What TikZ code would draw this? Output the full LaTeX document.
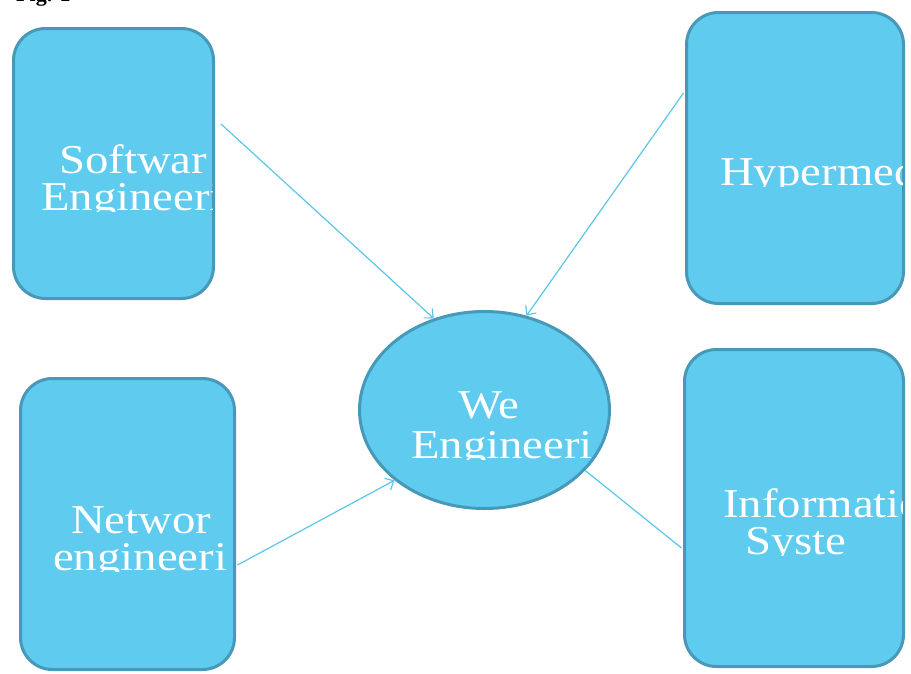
\documentclass[tikz,border=0pt]{standalone}
\usepackage{fontspec}
\usetikzlibrary{arrows.meta,shapes.geometric,calc}
\newfontfamily\lblfont[FakeStretch=1.14]{Liberation Serif}
\newfontfamily\capfont{Liberation Serif}
\definecolor{boxfill}{HTML}{5ECBEF}
\definecolor{boxline}{HTML}{4898B8}
\definecolor{linkline}{HTML}{5AC6EA}
\tikzset{
  topic/.style={draw=boxline, fill=boxfill, line width=3pt, rounded corners=32pt,
    rectangle, inner sep=0pt},
  hub/.style={draw=boxline, fill=boxfill, line width=3pt, ellipse, inner sep=0pt},
  lbl/.style={text=white, inner sep=0pt, anchor=base west,
    font=\lblfont\fontsize{41}{41}\selectfont},
  link/.style={draw=linkline, line width=1.2pt},
  linkarrow/.style={link, -{Straight Barb[length=7pt,width=13pt,line width=1.2pt]}}
}
% one line of label text, cut at its baseline and at the box edge
\newcommand{\lblline}[5]{%
  \begin{scope}
    \clip (#2-6,#3-48) rectangle (#5,#3+1.5);
    \node[lbl] (#1) at (#2,#3) {#4};
  \end{scope}}
\begin{document}
\begin{tikzpicture}[x=1pt,y=-1pt]
\useasboundingbox (0,0) rectangle (911,673);

% caption, mostly above the top edge
\begin{scope}
  \clip (0,0) rectangle (911,673);
  \node[anchor=base west, inner sep=0pt, font=\capfont\bfseries\fontsize{22}{22}\selectfont]
    (cap) at (16,1.5) {Fig. 1};
\end{scope}

% boxes and hub
\node[topic, minimum width=200pt, minimum height=270pt] (sw)  at (113.5,163.5) {};
\node[topic, minimum width=217pt, minimum height=291pt] (hy)  at (795,158) {};
\node[topic, minimum width=214pt, minimum height=291pt] (nw)  at (127.5,524) {};
\node[topic, minimum width=219pt, minimum height=317pt] (inf) at (794,508) {};
\node[hub, minimum width=250pt, minimum height=197pt] (web) at (484.5,410) {};

% labels
\lblline{swA}{59}{173}{Softwar}{212}
\lblline{swB}{41}{210}{Engineeri}{212}
\lblline{hyA}{720}{185}{Hypermed}{902}
\lblline{webA}{458}{418}{We}{611}
\lblline{webB}{411}{458}{Engineeri}{611}
\lblline{nwA}{71}{533}{Networ}{233}
\lblline{nwB}{53}{570}{engineeri}{233}
\lblline{infA}{723}{517}{Informatio}{902}
\lblline{infB}{745}{554}{Syste}{902}

% connectors
\draw[linkarrow] ($(sw.east)+(6,-39.5)$) -- (web.119.6);
\draw[linkarrow] ($(hy.west)+(-1.5,-65)$) -- (web.66.5);
\draw[linkarrow] ($(nw.east)+(1.5,41)$) -- (web.218.7);
\draw[link] (web.-31.8) -- ($(inf.west)+(-1.5,40)$);
\end{tikzpicture}
\end{document}
